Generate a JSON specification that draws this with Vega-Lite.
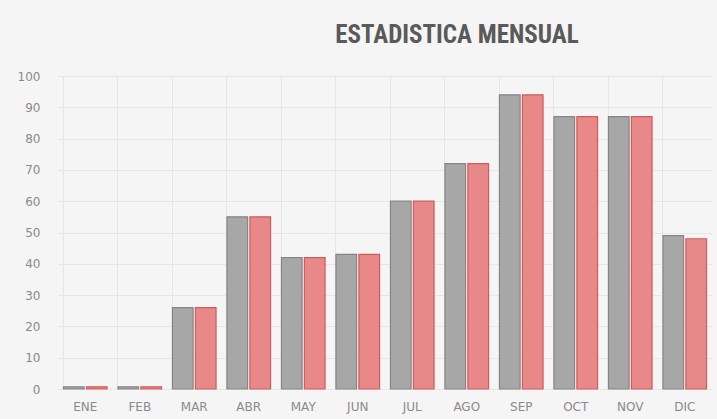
{
  "$schema": "https://vega.github.io/schema/vega-lite/v6.json",
  "autosize": {"type": "none"},
  "width": 654,
  "height": 313,
  "padding": {"left": 58, "top": 76, "right": 5, "bottom": 30},
  "background": "#f5f5f5",
  "title": {
    "text": "ESTADISTICA MENSUAL",
    "font": "Roboto Condensed, Liberation Sans Narrow, Roboto",
    "fontSize": 25,
    "fontWeight": "bold",
    "color": "#5a5a5a",
    "anchor": "middle",
    "dx": 72,
    "offset": 22
  },
  "data": {
    "values": [
      {"mes": "ENE", "serie": "A", "valor": 0.7}, {"mes": "ENE", "serie": "B", "valor": 0.7},
      {"mes": "FEB", "serie": "A", "valor": 0.7}, {"mes": "FEB", "serie": "B", "valor": 0.7},
      {"mes": "MAR", "serie": "A", "valor": 26}, {"mes": "MAR", "serie": "B", "valor": 26},
      {"mes": "ABR", "serie": "A", "valor": 55}, {"mes": "ABR", "serie": "B", "valor": 55},
      {"mes": "MAY", "serie": "A", "valor": 42}, {"mes": "MAY", "serie": "B", "valor": 42},
      {"mes": "JUN", "serie": "A", "valor": 43}, {"mes": "JUN", "serie": "B", "valor": 43},
      {"mes": "JUL", "serie": "A", "valor": 60}, {"mes": "JUL", "serie": "B", "valor": 60},
      {"mes": "AGO", "serie": "A", "valor": 72}, {"mes": "AGO", "serie": "B", "valor": 72},
      {"mes": "SEP", "serie": "A", "valor": 94}, {"mes": "SEP", "serie": "B", "valor": 94},
      {"mes": "OCT", "serie": "A", "valor": 87}, {"mes": "OCT", "serie": "B", "valor": 87},
      {"mes": "NOV", "serie": "A", "valor": 87}, {"mes": "NOV", "serie": "B", "valor": 87},
      {"mes": "DIC", "serie": "A", "valor": 49}, {"mes": "DIC", "serie": "B", "valor": 48}
    ]
  },
  "mark": {"type": "bar", "strokeWidth": 1.2},
  "encoding": {
    "x": {
      "field": "mes", "type": "nominal", "sort": null,
      "scale": {"paddingInner": 0.2, "paddingOuter": 0.1},
      "axis": {
        "title": null, "labelAngle": 0, "domain": false, "ticks": false,
        "grid": true, "bandPosition": 0, "gridColor": "#e6e6e6",
        "labelColor": "#8a8a8a", "labelFont": "DejaVu Sans", "labelFontSize": 12,
        "labelPadding": 12
      }
    },
    "xOffset": {"field": "serie", "type": "nominal", "scale": {"paddingInner": 0.1}},
    "y": {
      "field": "valor", "type": "quantitative",
      "scale": {"domain": [0, 100], "nice": false},
      "axis": {
        "title": null, "domain": false, "ticks": false, "values": [0,10,20,30,40,50,60,70,80,90,100],
        "gridColor": "#e6e6e6", "labelColor": "#8a8a8a", "labelFont": "DejaVu Sans",
        "labelFontSize": 12, "labelPadding": 18
      }
    },
    "color": {
      "field": "serie", "type": "nominal", "legend": null,
      "scale": {"domain": ["A", "B"], "range": ["#a7a7a7", "#e88888"]}
    },
    "stroke": {
      "field": "serie", "type": "nominal", "legend": null,
      "scale": {"domain": ["A", "B"], "range": ["#858585", "#d25a5a"]}
    }
  },
  "config": {"view": {"stroke": null}}
}
